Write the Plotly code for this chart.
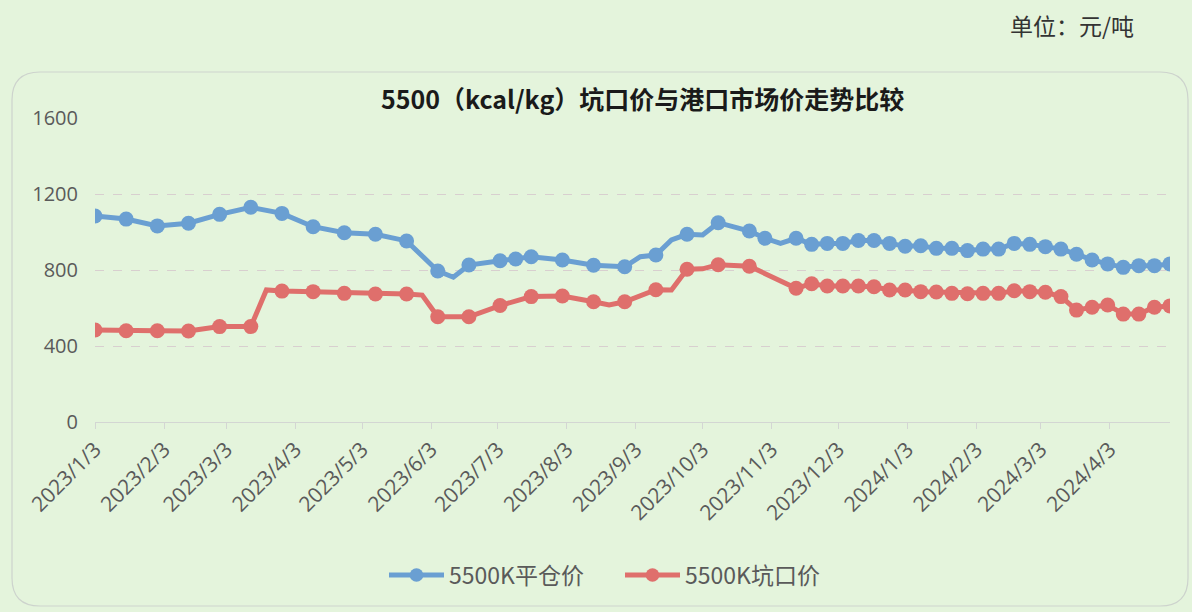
import plotly.graph_objects as go

# ---------------- data ----------------
blue_dates = [
    "2023-01-03", "2023-01-17", "2023-01-31", "2023-02-14", "2023-02-28", "2023-03-14",
    "2023-03-28", "2023-04-11", "2023-04-25", "2023-05-09", "2023-05-23", "2023-06-06",
    "2023-06-13", "2023-06-20", "2023-07-04", "2023-07-11", "2023-07-18", "2023-08-01",
    "2023-08-15", "2023-08-29", "2023-09-05", "2023-09-12", "2023-09-19", "2023-09-26",
    "2023-10-03", "2023-10-10", "2023-10-24", "2023-10-31", "2023-11-07", "2023-11-14",
    "2023-11-21", "2023-11-28", "2023-12-05", "2023-12-12", "2023-12-19", "2023-12-26",
    "2024-01-02", "2024-01-09", "2024-01-16", "2024-01-23", "2024-01-30", "2024-02-06",
    "2024-02-13", "2024-02-20", "2024-02-27", "2024-03-05", "2024-03-12", "2024-03-19",
    "2024-03-26", "2024-04-02", "2024-04-09", "2024-04-16", "2024-04-23", "2024-04-30",
]
blue_values = [
    1084, 1068, 1032, 1046, 1093, 1130,
    1098, 1028, 996, 988, 953, 795,
    762, 826, 849, 858, 870, 853,
    825, 817, 870, 879, 958, 988,
    984, 1049, 1005, 967, 940, 967,
    935, 940, 940, 955, 955, 940,
    925, 928, 914, 914, 902, 910,
    910, 940, 935, 923, 910, 883,
    853, 832, 814, 823, 823, 832,
]
blue_unmarked = ["2023-06-13", "2023-09-05", "2023-09-19", "2023-10-03", "2023-11-07"]

red_dates = [
    "2023-01-03", "2023-01-17", "2023-01-31", "2023-02-14", "2023-02-28", "2023-03-14",
    "2023-03-21", "2023-03-28", "2023-04-11", "2023-04-25", "2023-05-09", "2023-05-23",
    "2023-05-30", "2023-06-06", "2023-06-20", "2023-07-04", "2023-07-18", "2023-08-01",
    "2023-08-15", "2023-08-22", "2023-08-29", "2023-09-12", "2023-09-19", "2023-09-26",
    "2023-10-03", "2023-10-10", "2023-10-24", "2023-11-14", "2023-11-21", "2023-11-28",
    "2023-12-05", "2023-12-12", "2023-12-19", "2023-12-26", "2024-01-02", "2024-01-09",
    "2024-01-16", "2024-01-23", "2024-01-30", "2024-02-06", "2024-02-13", "2024-02-20",
    "2024-02-27", "2024-03-05", "2024-03-12", "2024-03-19", "2024-03-26", "2024-04-02",
    "2024-04-09", "2024-04-16", "2024-04-23", "2024-04-30",
]
red_values = [
    484, 480, 480, 479, 502, 502,
    695, 689, 686, 677, 674, 674,
    668, 554, 554, 613, 660, 663,
    633, 616, 633, 696, 695, 804,
    806, 828, 820, 704, 728, 716,
    716, 716, 712, 695, 695, 686,
    684, 677, 675, 677, 677, 691,
    686, 683, 660, 589, 604, 616,
    568, 568, 604, 611,
]
red_unmarked = ["2023-03-21", "2023-05-30", "2023-08-22", "2023-09-19", "2023-10-03"]

tick_dates = [
    "2023-01-03", "2023-02-03", "2023-03-03", "2023-04-03", "2023-05-03", "2023-06-03",
    "2023-07-03", "2023-08-03", "2023-09-03", "2023-10-03", "2023-11-03", "2023-12-03",
    "2024-01-03", "2024-02-03", "2024-03-03", "2024-04-03",
]
tick_labels = [
    "2023/1/3", "2023/2/3", "2023/3/3", "2023/4/3", "2023/5/3", "2023/6/3",
    "2023/7/3", "2023/8/3", "2023/9/3", "2023/10/3", "2023/11/3", "2023/12/3",
    "2024/1/3", "2024/2/3", "2024/3/3", "2024/4/3",
]
y_ticks = [0, 400, 800, 1200, 1600]

blue_name = "5500K平仓价"
red_name = "5500K坑口价"
title_text = "5500（kcal/kg）坑口价与港口市场价走势比较"
unit_text = "单位：元/吨"

# ---------------- style ----------------
BG = "#e4f4dc"
BLUE = "#6a9fd2"
RED = "#df6f6c"
TXT = "#5a5a5a"
FONT = "Open Sans, Noto Sans CJK SC, sans-serif"
CJK = "Noto Sans CJK SC, sans-serif"

W, H = 1192, 612
PL, PR, PT, PB = 95, 1170, 118, 422


def px(x):
    return (x - PL) / (PR - PL)


def py(y):
    return (PB - y) / (PB - PT)


fig = go.Figure()
fig.add_trace(go.Scatter(
    x=blue_dates, y=blue_values, name=blue_name, mode="lines+markers",
    line=dict(color=BLUE, width=5),
    marker=dict(color=BLUE, opacity=1, line=dict(width=0),
                size=[0 if d in blue_unmarked else 15 for d in blue_dates]),
))
fig.add_trace(go.Scatter(
    x=red_dates, y=red_values, name=red_name, mode="lines+markers",
    line=dict(color=RED, width=5),
    marker=dict(color=RED, opacity=1, line=dict(width=0),
                size=[0 if d in red_unmarked else 15 for d in red_dates]),
))

# rounded chart border
x0, x1, y0, y1, r = 12, 1188, 72, 606, 28
path = (
    f"M {px(x0 + r)},{py(y0)} L {px(x1 - r)},{py(y0)} "
    f"Q {px(x1)},{py(y0)} {px(x1)},{py(y0 + r)} "
    f"L {px(x1)},{py(y1 - r)} Q {px(x1)},{py(y1)} {px(x1 - r)},{py(y1)} "
    f"L {px(x0 + r)},{py(y1)} Q {px(x0)},{py(y1)} {px(x0)},{py(y1 - r)} "
    f"L {px(x0)},{py(y0 + r)} Q {px(x0)},{py(y0)} {px(x0 + r)},{py(y0)} Z"
)
fig.add_shape(type="path", path=path, xref="paper", yref="paper",
              line=dict(color="#cdd3cd", width=1.2), layer="below")

fig.add_annotation(text=f"<b>{title_text}</b>", xref="paper", yref="paper",
                   x=px(642), y=py(98), showarrow=False,
                   font=dict(family=CJK, size=25, color="#1a1a1a"),
                   xanchor="center", yanchor="middle")
fig.add_annotation(text=unit_text, xref="paper", yref="paper",
                   x=px(1136), y=py(25), showarrow=False,
                   font=dict(family=CJK, size=23, color="#333333"),
                   xanchor="right", yanchor="middle")

fig.update_layout(
    width=W, height=H,
    margin=dict(l=PL, r=W - PR, t=PT, b=H - PB, pad=0),
    paper_bgcolor=BG, plot_bgcolor=BG,
    font=dict(family=FONT, color=TXT),
    showlegend=True,
    legend=dict(orientation="h", x=px(384), y=py(575), xanchor="left", yanchor="middle",
                font=dict(family=CJK, size=23, color=TXT), itemwidth=55,
                entrywidth=166, entrywidthmode="pixels",
                bgcolor="rgba(0,0,0,0)", traceorder="normal"),
    xaxis=dict(
        type="date", range=["2023-01-03", "2024-04-30"],
        tickmode="array", tickvals=tick_dates, ticktext=tick_labels,
        tickangle=-45, tickfont=dict(family=FONT, size=21, color=TXT),
        showgrid=False, showline=True, linecolor="#d3d6d3", linewidth=1,
        ticks="outside", ticklen=6, tickcolor="#d3d6d3", zeroline=False,
    ),
    yaxis=dict(
        range=[0, 1600], tickmode="array", tickvals=y_ticks,
        tickfont=dict(family=FONT, size=20, color=TXT),
        showgrid=True, gridcolor="#d8cfcf", griddash="dash", gridwidth=1,
        zeroline=False, showline=False, ticks="", ticklabelstandoff=16,
    ),
)

fig.write_html("out.html", config={"displayModeBar": False},
               post_script="document.body.style.margin='0';document.body.style.overflow='hidden';")
